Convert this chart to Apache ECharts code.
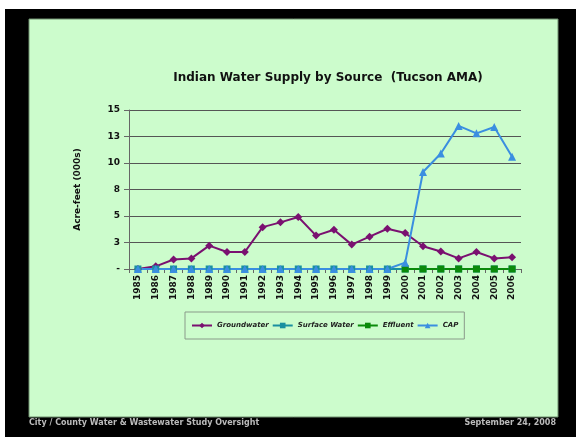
<!DOCTYPE html>
<html>
<head>
<meta charset="utf-8">
<script src="https://cdn.jsdelivr.net/npm/echarts@6/dist/echarts.min.js"></script>
<style>
  html, body { margin: 0; padding: 0; background: #000; }
  #chart { width: 576px; height: 437px; }
</style>
</head>
<body>
<div id="chart"></div>
<script>
// Water supply (thousands of acre-feet) by source, 1985-2006
const years = ['1985','1986','1987','1988','1989','1990','1991','1992','1993','1994','1995',
               '1996','1997','1998','1999','2000','2001','2002','2003','2004','2005','2006'];
const groundwater = [0, 0.25, 0.9, 1.0, 2.2, 1.6, 1.6, 3.95, 4.4, 4.9, 3.15,
                     3.7, 2.3, 3.05, 3.8, 3.4, 2.15, 1.65, 1.0, 1.6, 1.0, 1.1];
const surfaceWater = [0, 0, 0, 0, 0, 0, 0, 0, 0, 0, 0,
                      0, 0, 0, 0, 0, 0, 0, 0, 0, 0, 0];
const effluent = [null, null, null, null, null, null, null, null, null, null, null,
                  null, null, null, null, 0, 0, 0, 0, 0, 0, 0];
const cap = [0, 0, 0, 0, 0, 0, 0, 0, 0, 0, 0,
             0, 0, 0, 0, 0.6, 9.15, 10.9, 13.5, 12.8, 13.4, 10.6];
const yTicks = { min: 0, max: 15, step: 2.5 };

const chart = echarts.init(document.getElementById('chart'), null, { renderer: 'canvas' });

const font = '"DejaVu Sans", sans-serif';

function lineSeries(name, data, color, symbol, size) {
  return {
    name, type: 'line', data,
    symbol, symbolSize: size,
    lineStyle: { color, width: 2 },
    itemStyle: { color },
    connectNulls: false,
    animation: false
  };
}

chart.setOption({
  backgroundColor: '#000',
  animation: false,
  graphic: [
    { type: 'rect', z: -10, shape: { x: 0, y: 0, width: 576, height: 9 }, style: { fill: '#fff' } },
    { type: 'rect', z: -10, shape: { x: 0, y: 0, width: 5, height: 437 }, style: { fill: '#fff' } },
    { type: 'rect', z: -9, shape: { x: 29, y: 19, width: 529, height: 398 },
      style: { fill: '#ccfccc', stroke: '#6f8f6f', lineWidth: 1 } },
    { type: 'text', left: 29, top: 419,
      style: { text: 'City / County Water & Wastewater Study Oversight', fill: '#bbb',
               font: 'bold 8px ' + font } },
    { type: 'text', right: 20, top: 419,
      style: { text: 'September 24, 2008', fill: '#bbb', font: 'bold 8px ' + font } }
  ],
  title: {
    text: 'Indian Water Supply by Source  (Tucson AMA)',
    left: 323, top: 67, textAlign: 'center',
    textStyle: { fontFamily: font, fontWeight: 'bold', fontSize: 12, color: '#111' }
  },
  legend: {
    orient: 'horizontal',
    left: 185, top: 312,
    padding: [10, 6, 10, 6],
    itemGap: 3, itemWidth: 20, itemHeight: 7,
    borderColor: '#8a9a8a', borderWidth: 1,
    textStyle: { fontFamily: font, fontSize: 7, fontStyle: 'italic', fontWeight: 'bold', color: '#222' },
    data: ['Groundwater', 'Surface Water', 'Effluent', 'CAP']
  },
  grid: { left: 129, right: 55, top: 110, bottom: 168 },
  xAxis: {
    type: 'category', data: years, boundaryGap: true,
    axisLine: { lineStyle: { color: '#666', width: 1 } },
    axisTick: { show: true, length: 4, lineStyle: { color: '#666' } },
    axisLabel: { rotate: 90, interval: 0, margin: 6, color: '#111',
                 fontFamily: font, fontWeight: 'bold', fontSize: 9 }
  },
  yAxis: {
    type: 'value', min: yTicks.min, max: yTicks.max, interval: yTicks.step,
    name: 'Acre-feet (000s)', nameLocation: 'middle', nameGap: 47, nameRotate: 90,
    nameTextStyle: { fontFamily: font, fontWeight: 'bold', fontSize: 9, color: '#111' },
    axisLine: { show: true, lineStyle: { color: '#666' } },
    axisTick: { show: true, length: 5, lineStyle: { color: '#666' } },
    splitLine: { lineStyle: { color: '#555', width: 1 } },
    axisLabel: {
      margin: 9, color: '#111', fontFamily: font, fontWeight: 'bold', fontSize: 9,
      formatter: v => v === 0 ? '-' : String(Math.round(v))
    }
  },
  series: [
    lineSeries('Groundwater', groundwater, '#7a1070', 'diamond', 8),
    lineSeries('Surface Water', surfaceWater, '#1a8fa0', 'rect', 7),
    lineSeries('Effluent', effluent, '#0a8a0a', 'rect', 7),
    lineSeries('CAP', cap, '#3a8ee0', 'triangle', 8)
  ]
});
</script>
</body>
</html>
